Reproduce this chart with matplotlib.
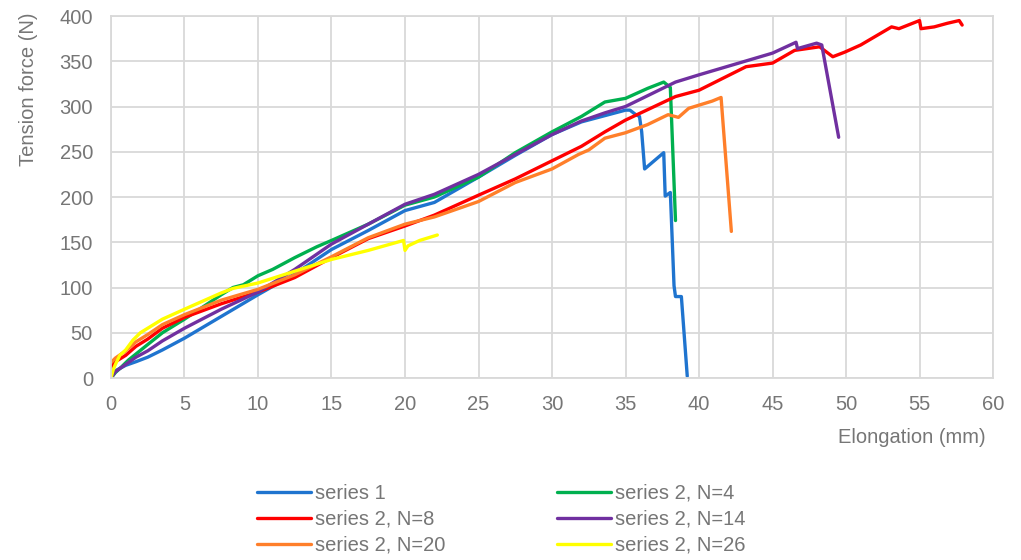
import matplotlib
matplotlib.use("Agg")
import matplotlib.pyplot as plt

plt.rcParams['font.family'] = ['Liberation Sans', 'DejaVu Sans']

# elongation (mm) / tension force (N)
s1_x = [0, 0.3, 1, 1.7, 2.5, 3.5, 5, 7.5, 10, 12.5, 15, 17.5, 20, 22, 25, 27.5, 30, 32, 35, 35.3,
        35.7, 35.95, 36.1, 36.3, 37.6, 37.7, 38.05, 38.3, 38.4, 38.8, 39.2]
s1_y = [0, 8, 14, 18, 23, 31, 44, 68, 92, 115, 142, 163, 185, 194, 222, 246, 269, 283, 296, 296,
        291, 289, 272, 231, 249, 201, 205, 102, 90, 90, 2]

n4_x = [0, 0.3, 0.7, 1.2, 2.5, 3.5, 5, 7.5, 8.3, 9, 10, 11, 12.5, 14, 15, 17.5, 20, 22, 25, 27.5,
        30, 32, 33.6, 35, 36.5, 37.6, 38.05, 38.4]
n4_y = [0, 6, 12, 20, 37, 50, 65, 92, 100, 103, 113, 120, 133, 145, 152, 170, 191, 200, 222, 249,
        272, 289, 305, 309, 320, 327, 321, 174]

n8_x = [0, 0.3, 1, 1.7, 2.5, 3.5, 5, 7.5, 10, 12.5, 15, 17.5, 20, 22, 25, 27.5, 30, 32, 33.6, 35,
        38.4, 40, 43.2, 45, 46.5, 48.2, 49.1, 49.9, 51, 53.1, 53.6, 55, 55.1, 56, 56.9,
        57.7, 57.9]
n8_y = [12, 18, 25, 35, 43, 55, 67, 82, 95, 111, 133, 154, 168, 180, 202, 220, 240, 256, 272, 285,
        311, 318, 344, 348, 362, 366, 355, 360, 368, 388, 386, 395, 386, 388, 392,
        395, 390]

n14_x = [0, 0.3, 1, 1.7, 2.5, 3.5, 5, 7.5, 10, 12.5, 15, 17.5, 20, 22, 25, 27.5, 30, 32, 33.6, 35,
         38.4, 40, 45, 46.6, 46.7, 48.0, 48.35, 49.5]
n14_y = [0, 7, 15, 23, 30, 41, 55, 76, 95, 120, 148, 170, 192, 203, 225, 247, 269, 284, 293, 300,
         327, 335, 359, 371, 364, 370, 368, 266]

n20_x = [0, 0.3, 1, 1.7, 2.5, 3.5, 5, 7.5, 10, 12.5, 15, 17.5, 20, 22, 25, 27.5, 30, 31.8, 32.5,
         33.6, 35, 36.5, 37.9, 38.6, 39.3, 40.9, 41.5, 42.2]
n20_y = [17, 22, 30, 40, 48, 59, 70, 86, 98, 114, 134, 155, 170, 178, 195, 216, 231, 247, 252,
         265, 271, 280, 291, 288, 298, 306, 310, 162]

n26_x = [0, 0.15, 0.3, 0.6, 1, 1.5, 2, 2.5, 3.5, 5, 7.5, 8.3, 10, 12.5, 15, 17.5, 19.9, 20.0,
         20.2, 21, 22.2]
n26_y = [0, 9, 15, 25, 31, 42, 50, 55, 65, 76, 94, 99, 105, 118, 131, 141, 152, 141,
         146, 152, 158]

labels = ['series 1', 'series 2, N=4', 'series 2, N=8',
          'series 2, N=14', 'series 2, N=20', 'series 2, N=26']
colors = ['#1F74CF', '#00B04F', '#FF0000', '#7030A0', '#FF7F2A', '#FFFF00']

grey = '#767676'
fs = 14.5

fig = plt.figure(figsize=(10.21, 5.60), dpi=100)
ax = fig.add_axes([0.1087, 0.325, 0.8639, 0.6464])

series = [(s1_x, s1_y), (n4_x, n4_y), (n8_x, n8_y),
          (n14_x, n14_y), (n20_x, n20_y), (n26_x, n26_y)]
handles = []
for (xs, ys), lab, col in zip(series, labels, colors):
    h, = ax.plot(xs, ys, color=col, lw=2.4, label=lab, solid_capstyle='round')
    handles.append(h)

ax.set_xlim(0, 60)
ax.set_ylim(0, 400)
ax.set_xticks(range(0, 61, 5))
ax.set_yticks(range(0, 401, 50))
ax.grid(True, color='#D9D9D9', lw=1.3)
ax.set_axisbelow(True)
for sp in ax.spines.values():
    sp.set_color('#D9D9D9')
    sp.set_linewidth(1.3)
ax.tick_params(length=0, labelsize=fs, colors=grey)
ax.tick_params(axis='x', pad=12)
ax.tick_params(axis='y', pad=13)

fig.text(0.028, 0.977, 'Tension force (N)', rotation=90, ha='center', va='top',
         fontsize=fs, color=grey)
fig.text(0.965, 0.218, 'Elongation (mm)', ha='right', va='center',
         fontsize=fs, color=grey)

# legend fills column-wise, so reorder to read row by row
order = [0, 2, 4, 1, 3, 5]
fig.legend([handles[i] for i in order], [labels[i] for i in order],
           ncol=2, loc='center', bbox_to_anchor=(0.491, 0.073), frameon=False,
           fontsize=fs, labelcolor=grey, handlelength=2.7, handletextpad=0.2,
           columnspacing=5.5, labelspacing=0.35)

fig.savefig('out.png', dpi=100)
